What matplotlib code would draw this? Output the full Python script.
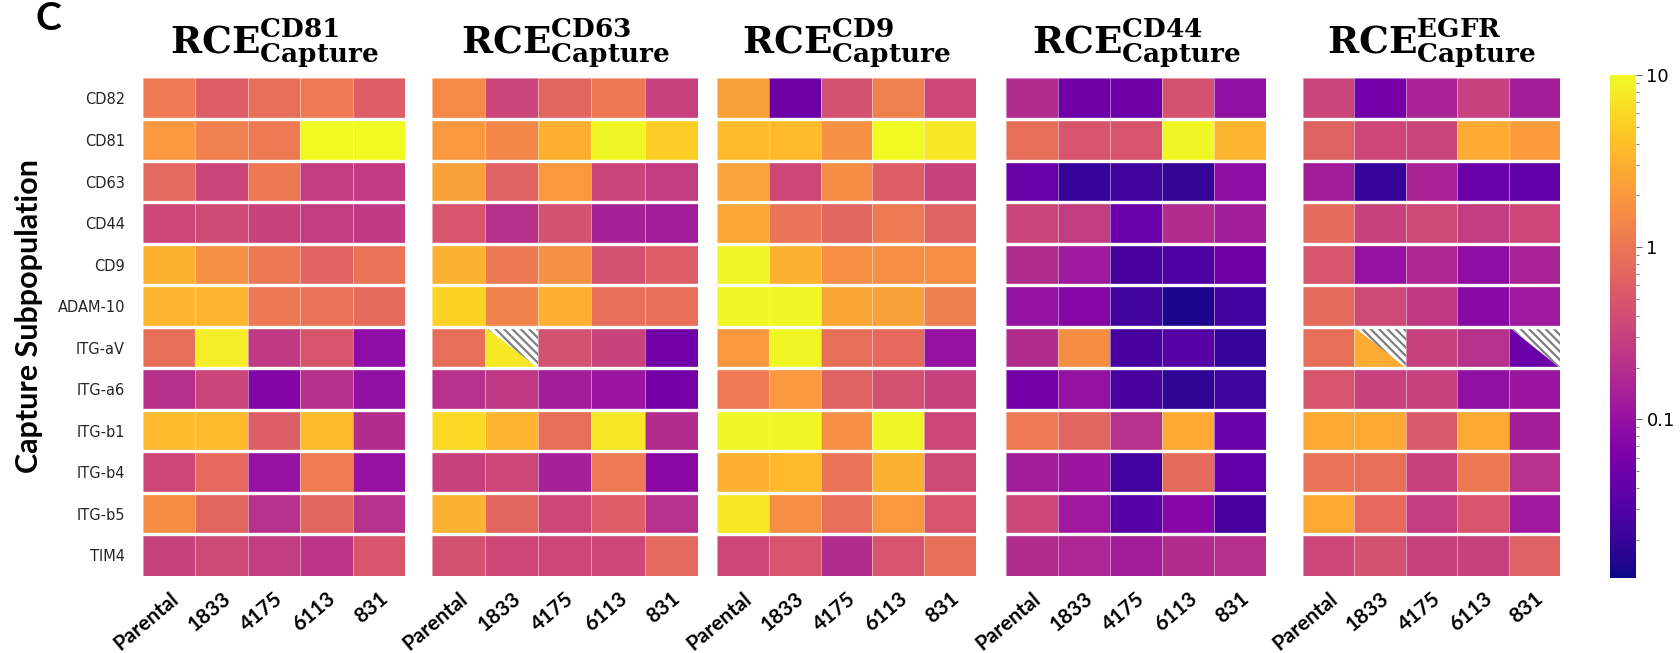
import numpy as np
import matplotlib
matplotlib.use('Agg')
import matplotlib.pyplot as plt
from matplotlib.colors import LogNorm
from matplotlib.patches import Polygon

plt.rcParams['mathtext.fontset'] = 'dejavuserif'
plt.rcParams['hatch.linewidth'] = 1.6

# rows / columns
rows = ['CD82', 'CD81', 'CD63', 'CD44', 'CD9', 'ADAM-10',
        'ITG-aV', 'ITG-a6', 'ITG-b1', 'ITG-b4', 'ITG-b5', 'TIM4']
cols = ['Parental', '1833', '4175', '6113', '831']
markers = ['CD81', 'CD63', 'CD9', 'CD44', 'EGFR']

# RCE values per capture marker (rows x cols)
rce_cd81 = [
    [1.1, 0.6, 0.85, 1.1, 0.6],
    [2.0, 1.25, 1.1, 10.0, 10.0],
    [0.75, 0.33, 1.05, 0.27, 0.26],
    [0.35, 0.38, 0.31, 0.27, 0.25],
    [3.2, 1.75, 1.05, 0.68, 0.95],
    [3.4, 3.4, 1.05, 0.95, 0.8],
    [0.85, 8.5, 0.25, 0.48, 0.09],
    [0.2, 0.33, 0.073, 0.2, 0.095],
    [3.6, 3.6, 0.6, 3.6, 0.18],
    [0.35, 0.78, 0.1, 1.15, 0.1],
    [1.6, 0.72, 0.21, 0.72, 0.21],
    [0.31, 0.37, 0.27, 0.23, 0.5],
]
rce_cd63 = [
    [1.5, 0.33, 0.72, 1.05, 0.3],
    [2.0, 1.4, 3.0, 9.5, 5.1],
    [2.3, 0.65, 2.0, 0.33, 0.27],
    [0.48, 0.2, 0.43, 0.14, 0.13],
    [3.1, 1.05, 1.75, 0.43, 0.6],
    [5.6, 1.35, 3.0, 0.85, 0.88],
    [0.85, 7.5, 0.43, 0.32, 0.052],
    [0.21, 0.25, 0.13, 0.11, 0.057],
    [6.0, 3.4, 0.85, 7.5, 0.18],
    [0.3, 0.35, 0.14, 1.1, 0.08],
    [3.1, 0.72, 0.35, 0.6, 0.21],
    [0.43, 0.35, 0.35, 0.35, 0.75],
]
rce_cd9 = [
    [2.3, 0.05, 0.43, 1.25, 0.35],
    [3.6, 3.6, 1.75, 10.0, 7.5],
    [2.4, 0.35, 1.6, 0.6, 0.3],
    [2.6, 0.95, 0.72, 1.1, 0.65],
    [9.5, 3.1, 1.65, 1.65, 1.65],
    [9.5, 9.5, 2.5, 2.3, 1.2],
    [2.0, 9.5, 0.85, 0.78, 0.1],
    [1.1, 2.0, 0.65, 0.43, 0.3],
    [9.5, 9.5, 1.65, 9.5, 0.35],
    [3.0, 3.6, 0.95, 3.1, 0.37],
    [7.5, 1.65, 0.85, 2.0, 0.48],
    [0.35, 0.48, 0.18, 0.48, 0.85],
]
rce_cd44 = [
    [0.18, 0.05, 0.05, 0.43, 0.095],
    [0.85, 0.48, 0.48, 9.5, 3.3],
    [0.046, 0.02, 0.0235, 0.019, 0.09],
    [0.33, 0.27, 0.046, 0.18, 0.13],
    [0.18, 0.12, 0.026, 0.029, 0.05],
    [0.1, 0.075, 0.0235, 0.014, 0.024],
    [0.18, 1.6, 0.026, 0.033, 0.02],
    [0.057, 0.1, 0.026, 0.018, 0.022],
    [1.1, 0.72, 0.21, 2.7, 0.046],
    [0.13, 0.11, 0.024, 0.8, 0.04],
    [0.35, 0.12, 0.033, 0.075, 0.026],
    [0.18, 0.16, 0.13, 0.18, 0.2],
]
rce_egfr = [
    [0.33, 0.057, 0.15, 0.3, 0.13],
    [0.65, 0.35, 0.33, 2.8, 2.1],
    [0.13, 0.02, 0.15, 0.046, 0.04],
    [0.8, 0.3, 0.37, 0.27, 0.35],
    [0.48, 0.1, 0.17, 0.09, 0.15],
    [0.8, 0.37, 0.25, 0.08, 0.12],
    [0.85, 2.8, 0.3, 0.21, 0.046],
    [0.48, 0.3, 0.3, 0.095, 0.11],
    [2.7, 2.7, 0.55, 2.7, 0.13],
    [0.95, 0.85, 0.3, 1.05, 0.21],
    [2.7, 0.78, 0.27, 0.48, 0.12],
    [0.35, 0.43, 0.3, 0.3, 0.62],
]
panels = [rce_cd81, rce_cd63, rce_cd9, rce_cd44, rce_egfr]

# cells with a hatched half (panel, row, col)
hatched = [(1, 6, 1), (4, 6, 1), (4, 6, 4)]

norm = LogNorm(vmin=0.012, vmax=10)

fig = plt.figure(figsize=(16.8, 6.53), dpi=100)

lefts = [0.0851, 0.2571, 0.4268, 0.5988, 0.7756]
widths = [0.156, 0.1583, 0.1542, 0.1548, 0.153]
bottom = 0.118
height = 0.763

for k in range(5):
    ax = fig.add_axes([lefts[k], bottom, widths[k], height])
    data = np.array(panels[k])
    mesh = ax.pcolormesh(data, cmap='plasma', norm=norm,
                         edgecolors=(1, 1, 1, 0.45), linewidth=0.7)
    ax.set_xlim(0, 5)
    ax.set_ylim(12, 0)
    for i in range(1, 12):
        ax.axhline(i, color='white', lw=2.4)
    for (p, r, c) in hatched:
        if p == k:
            tri = Polygon([(c, r), (c + 1, r), (c + 1, r + 1)], closed=True,
                          facecolor='white', edgecolor='#808080',
                          hatch='\\\\\\\\', lw=0)
            ax.add_patch(tri)
    for s in ax.spines.values():
        s.set_visible(False)
    ax.set_xticks(np.arange(5) + 0.5)
    ax.set_xticklabels(cols, rotation=40, ha='right', rotation_mode='anchor',
                       fontsize=15, fontweight='bold', family='Lato')
    ax.tick_params(axis='x', length=0, pad=9)
    if k == 0:
        ax.set_yticks(np.arange(12) + 0.5)
        ax.set_yticklabels(rows, fontsize=10.5, color='#262626')
        ax.tick_params(axis='y', length=0, pad=13)
    else:
        ax.set_yticks([])
    cx = lefts[k] + widths[k] / 2
    fig.text(cx, 0.92,
             r'$\mathbf{RCE}^{\mathbf{%s}}_{\mathbf{Capture}}$' % markers[k],
             ha='center', va='baseline', fontsize=27)

cax = fig.add_axes([0.9583, 0.1149, 0.0155, 0.770])
cb = fig.colorbar(mesh, cax=cax)
cb.outline.set_visible(False)
cb.set_ticks([0.1, 1, 10])
cb.set_ticklabels(['0.1', '1', '10'])
cax.tick_params(which='major', labelsize=13, length=4, color='#666666')
cax.tick_params(which='minor', length=2.5, color='#666666')

fig.text(0.017, 0.516, 'Capture Subpopulation', rotation=90,
         ha='center', va='center', fontsize=22, fontweight='bold', family='Lato')
fig.text(0.021, 0.998, 'C', ha='left', va='top', fontsize=28,
         fontweight='bold', family='Lato')

fig.savefig('out.png', dpi=100)
